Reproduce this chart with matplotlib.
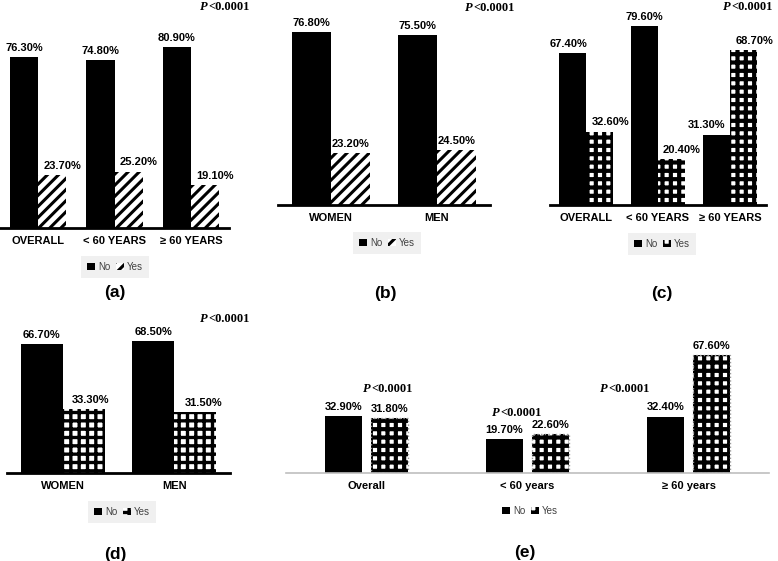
import numpy as np
import matplotlib.pyplot as plt
from matplotlib.patches import Patch

plt.rcParams['font.family'] = ['Liberation Sans', 'DejaVu Sans']

# data
a_cats = ['OVERALL', '< 60 YEARS', '≥ 60 YEARS']
a_no = [76.3, 74.8, 80.9]
a_yes = [23.7, 25.2, 19.1]

b_cats = ['WOMEN', 'MEN']
b_no = [76.8, 75.5]
b_yes = [23.2, 24.5]

c_cats = ['OVERALL', '< 60 YEARS', '≥ 60 YEARS']
c_no = [67.4, 79.6, 31.3]
c_yes = [32.6, 20.4, 68.7]

d_cats = ['WOMEN', 'MEN']
d_no = [66.7, 68.5]
d_yes = [33.3, 31.5]

e_cats = ['Overall', '< 60 years', '≥ 60 years']
e_no = [32.9, 19.7, 32.4]
e_yes = [31.8, 22.6, 67.6]

W, H = 778, 561
fig = plt.figure(figsize=(W / 100, H / 100), dpi=100)


def fx(x):
    return x / W


def fy(y):
    return 1 - y / H


def panel(cats, no, yes, left, right, base, ppu, top=0, width=0.37, gap=0.0,
          hatch='//', hatch_lw=2.0, yes_dx=None, no_dx=None,
          axis_color='black', axis_lw=2.0, outline=False):
    ax = fig.add_axes([fx(left), fy(base), (right - left) / W, (base - top) / H])
    ax.set_xlim(-0.5, len(cats) - 0.5)
    ax.set_ylim(0, (base - top) / ppu)
    x = np.arange(len(cats))
    xn = x - width / 2 - gap / 2
    xy = x + width / 2 + gap / 2
    ax.bar(xn, no, width, color='black')
    plt.rcParams['hatch.linewidth'] = hatch_lw
    bars = ax.bar(xy, yes, width, facecolor='white', edgecolor='black',
                  hatch=hatch, lw=0)
    for b in bars:
        if hasattr(b, 'set_hatch_linewidth'):
            b.set_hatch_linewidth(hatch_lw)
    if outline:
        ax.bar(xy, yes, width, fill=False, edgecolor='#9a9a9a', lw=1, ls=':')
    no_dx = no_dx or [0] * len(cats)
    yes_dx = yes_dx or [0] * len(cats)
    for i in range(len(cats)):
        ax.annotate(f'{no[i]:.2f}%', (xn[i], no[i]), xytext=(no_dx[i], 3),
                    textcoords='offset points', ha='center', va='bottom',
                    fontsize=8, fontweight='bold', annotation_clip=False)
        ax.annotate(f'{yes[i]:.2f}%', (xy[i], yes[i]), xytext=(yes_dx[i], 3),
                    textcoords='offset points', ha='center', va='bottom',
                    fontsize=8, fontweight='bold', annotation_clip=False)
    ax.set_xticks(x, cats)
    ax.set_yticks([])
    ax.tick_params(length=0, pad=6, labelsize=8)
    for t in ax.get_xticklabels():
        t.set_fontweight('bold')
    for s in ['left', 'right', 'top']:
        ax.spines[s].set_visible(False)
    ax.spines['bottom'].set_color(axis_color)
    ax.spines['bottom'].set_linewidth(axis_lw)
    ax.patch.set_alpha(0)
    return ax


def legend(ax, hatch, x, y, bg='#f0f0f0'):
    handles = [Patch(facecolor='black'),
               Patch(facecolor='white', edgecolor='black', hatch=hatch, lw=0)]
    ax.legend(handles, ['No', 'Yes'], loc='center', ncol=2,
              bbox_to_anchor=(fx(x), fy(y)), bbox_transform=fig.transFigure,
              fontsize=7, handlelength=0.8, handleheight=0.8,
              handletextpad=0.3, columnspacing=0.6, borderpad=0.6,
              frameon=True, facecolor=bg, edgecolor='none', framealpha=1,
              fancybox=False, labelcolor='#404040')


def ptext(x, y):
    fig.text(fx(x), fy(y), 'P', ha='right', va='center', family='Liberation Serif',
             style='italic', weight='bold', size=9)
    fig.text(fx(x), fy(y), '<0.0001', ha='left', va='center',
             family='Liberation Serif', weight='bold', size=9)


def letter(s, x, y):
    fig.text(fx(x), fy(y), s, ha='center', va='center', fontsize=12.5,
             fontweight='bold')


ax = panel(a_cats, a_no, a_yes, 0, 229, 228, 2.24, hatch='///', hatch_lw=2.2,
           yes_dx=[7, 7, 7])
legend(ax, '///', 115, 267)
ptext(208, 7)
letter('(a)', 115, 292)

ax = panel(b_cats, b_no, b_yes, 278, 490, 205, 2.25, hatch='///', hatch_lw=2.2)
legend(ax, '///', 387, 243)
ptext(473, 8)
letter('(b)', 385, 293)

ax = panel(c_cats, c_no, c_yes, 550, 766, 205, 2.25, width=0.375, hatch='++',
           hatch_lw=3.0, yes_dx=[8, 7, 8], no_dx=[-3, 0, -7])
legend(ax, '++', 662, 244)
ptext(731, 7)
letter('(c)', 662, 293)

ax = panel(d_cats, d_no, d_yes, 7, 230, 473, 1.93, width=0.375, hatch='++',
           hatch_lw=2.4, yes_dx=[5, 6])
legend(ax, '++', 122, 512)
ptext(208, 319)
letter('(d)', 115, 555)

ax = panel(e_cats, e_no, e_yes, 286, 769, 473, 1.74, width=0.224, gap=0.062,
           hatch='++', hatch_lw=3.0, axis_color='#bfbfbf', axis_lw=1.2,
           outline=True)
legend(ax, '++', 530, 511, bg='white')
ptext(371, 389)
ptext(500, 413)
ptext(608, 389)
letter('(e)', 525, 553)

fig.savefig('out.png', dpi=100)
